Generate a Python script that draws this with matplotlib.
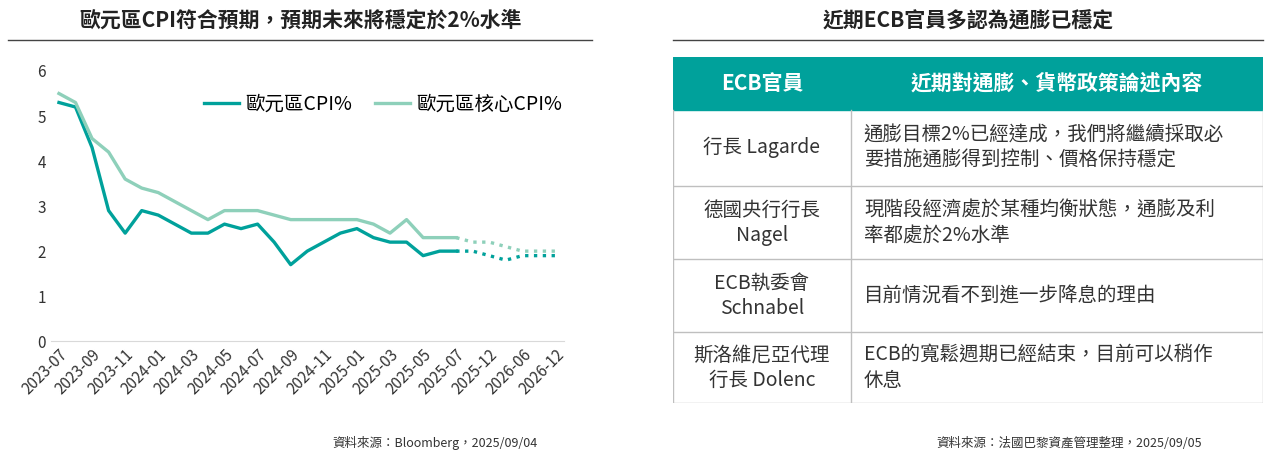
# -*- coding: utf-8 -*-
"""
Euro area CPI chart with ECB officials table
"""
# Import necessary libraries
import matplotlib.pyplot as plt

plt.rcParams['font.family'] = ['Noto Sans CJK TC', 'DejaVu Sans']

months = ['2023-07', '', '2023-09', '', '2023-11', '', '2024-01', '', '2024-03', '', '2024-05', '',
          '2024-07', '', '2024-09', '', '2024-11', '', '2025-01', '', '2025-03', '', '2025-05', '',
          '2025-07', '', '2025-12', '', '2026-06', '', '2026-12']
cpi = [5.3, 5.2, 4.3, 2.9, 2.4, 2.9, 2.8, 2.6, 2.4, 2.4, 2.6, 2.5, 2.6, 2.2, 1.7, 2.0, 2.2, 2.4,
       2.5, 2.3, 2.2, 2.2, 1.9, 2.0, 2.0]
core = [5.5, 5.3, 4.5, 4.2, 3.6, 3.4, 3.3, 3.1, 2.9, 2.7, 2.9, 2.9, 2.9, 2.8, 2.7, 2.7, 2.7, 2.7,
        2.7, 2.6, 2.4, 2.7, 2.3, 2.3, 2.3]
cpi_f = [2.0, 2.0, 1.9, 1.8, 1.9, 1.9, 1.9]
core_f = [2.3, 2.2, 2.2, 2.1, 2.0, 2.0, 2.0]

c1 = '#00A19B'
c2 = '#8ED0BA'

fig = plt.figure(figsize=(12.67, 4.58), dpi=100)

#Left chart
ax = fig.add_axes([0.04, 0.255, 0.405, 0.59])
x = list(range(len(months)))
ax.plot(x[:25], cpi, color=c1, lw=2.4, label='歐元區CPI%')
ax.plot(x[:25], core, color=c2, lw=2.4, label='歐元區核心CPI%')
ax.plot(x[24:], cpi_f, color=c1, lw=2.4, ls=':')
ax.plot(x[24:], core_f, color=c2, lw=2.4, ls=':')
ax.set_xticks(x[::2])
ax.set_xticklabels(months[::2], rotation=45, ha='right', rotation_mode='anchor', fontsize=11, color='#333333')
ax.set_ylim(0, 6)
ax.set_xlim(-0.5, 30.5)
ax.set_yticks(range(7))
ax.tick_params(axis='y', labelsize=11, length=0, labelcolor='#333333')
ax.tick_params(axis='x', length=0)
for s in ['top', 'right', 'left']:
    ax.spines[s].set_visible(False)
ax.spines['bottom'].set_color('#d9d9d9')
ax.legend(loc='upper right', bbox_to_anchor=(1.03, 0.98), ncol=2, frameon=False, fontsize=14,
          handlelength=1.8, handletextpad=0.3, columnspacing=1.2)

#Titles and sources
fig.text(0.237, 0.955, '歐元區CPI符合預期，預期未來將穩定於2%水準', ha='center', va='center',
         fontsize=15, fontweight='bold', color='#222222')
fig.text(0.764, 0.955, '近期ECB官員多認為通膨已穩定', ha='center', va='center',
         fontsize=15, fontweight='bold', color='#222222')
fig.add_artist(plt.Line2D([0.006, 0.467], [0.912, 0.912], color='#444444', lw=1))
fig.add_artist(plt.Line2D([0.531, 0.997], [0.912, 0.912], color='#444444', lw=1))
fig.text(0.424, 0.025, '資料來源：Bloomberg，2025/09/04', ha='right', fontsize=9, color='#333333')
fig.text(0.949, 0.025, '資料來源：法國巴黎資產管理整理，2025/09/05', ha='right', fontsize=9, color='#333333')

#Right table
tx = fig.add_axes([0.531, 0.12, 0.466, 0.755])
tx.set_xlim(673, 1263)
tx.set_ylim(400, 58)
tx.axis('off')
tx.add_patch(plt.Rectangle((673, 58), 590, 52, color=c1))
tx.text(762, 84, 'ECB官員', ha='center', va='center', color='white', fontsize=15, fontweight='bold')
tx.text(1057, 84, '近期對通膨、貨幣政策論述內容', ha='center', va='center', color='white', fontsize=15,
        fontweight='bold')
rows = [('行長 Lagarde', '通膨目標2%已經達成，我們將繼續採取必\n要措施通膨得到控制、價格保持穩定'),
        ('德國央行行長\nNagel', '現階段經濟處於某種均衡狀態，通膨及利\n率都處於2%水準'),
        ('ECB執委會\nSchnabel', '目前情況看不到進一步降息的理由'),
        ('斯洛維尼亞代理\n行長 Dolenc', 'ECB的寬鬆週期已經結束，目前可以稍作\n休息')]
edges = [110, 185, 258, 330, 400]
for i, (who, what) in enumerate(rows):
    mid = (edges[i] + edges[i + 1]) / 2
    tx.text(762, mid, who, ha='center', va='center', fontsize=14, color='#333333', linespacing=1.25)
    tx.text(864, mid, what, ha='left', va='center', fontsize=14, color='#333333', linespacing=1.25)
    tx.plot([673, 1263], [edges[i + 1], edges[i + 1]], color='#bfbfbf', lw=1)
tx.plot([851, 851], [110, 400], color='#bfbfbf', lw=1)
tx.plot([673, 673], [110, 400], color='#bfbfbf', lw=1)
tx.plot([1263, 1263], [110, 400], color='#bfbfbf', lw=1)

plt.savefig('out.png')
